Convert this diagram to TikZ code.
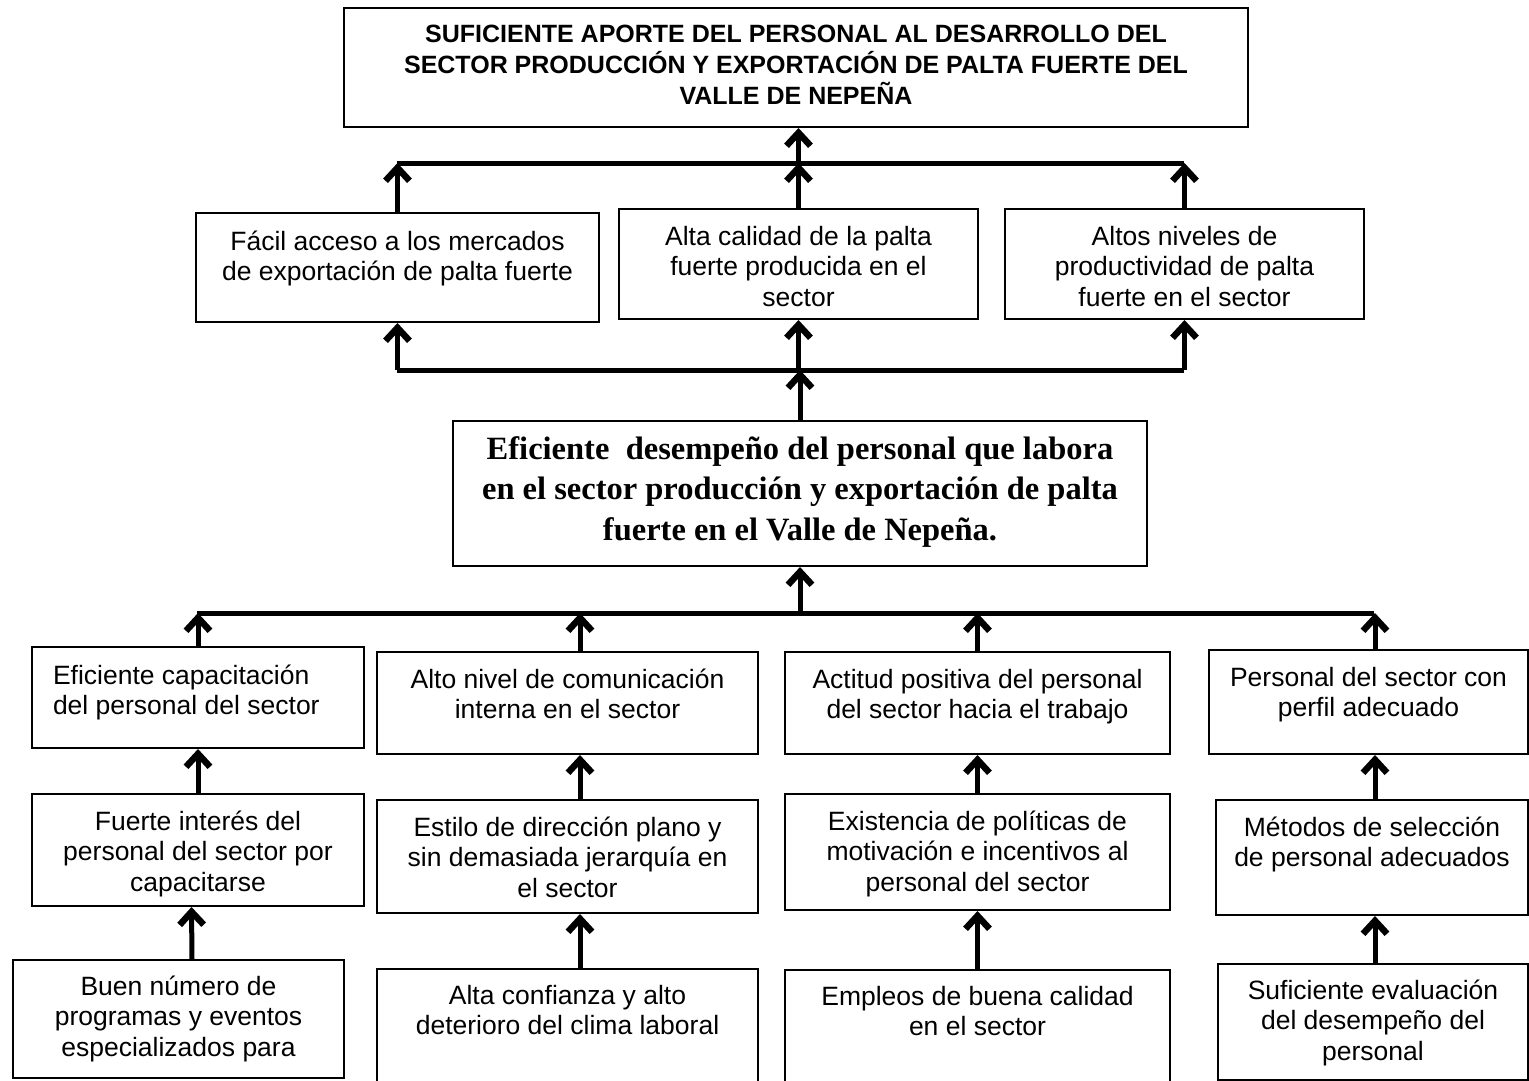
\documentclass[tikz,border=0pt]{standalone}
\usepackage{fontspec}
\setmainfont{Liberation Sans}
\newfontfamily\tnr{Liberation Serif}
\usetikzlibrary{arrows.meta}

% texto alineado arriba dentro de una caja de alto fijo
\newcommand{\contenido}[5][\centering]{\parbox[c][#3][t]{#2}{#1\rule{0pt}{#4}#5}}

\begin{document}
\begin{tikzpicture}[x=1pt, y=-1pt,
  caja/.style={draw, line width=2pt, inner sep=0pt, anchor=north west,
               font=\fontsize{26.5}{30.5}\selectfont},
  titulo/.style={caja, font=\bfseries\fontsize{25}{31}\selectfont},
  central/.style={caja, font=\tnr\bfseries\fontsize{32.5}{40.5}\selectfont},
  flecha/.style={-{Straight Barb[length=13pt, width=24pt, line width=6.5pt]}, line width=5pt},
  barra/.style={line width=5pt}
]
\useasboundingbox (0,0) rectangle (1529,1080);

% fin
\node[titulo] (aporte) at (343,7) {\contenido{904pt}{119pt}{34pt}{SUFICIENTE APORTE DEL PERSONAL AL DESARROLLO DEL\\ SECTOR PRODUCCIÓN Y EXPORTACIÓN DE PALTA FUERTE DEL\\ VALLE DE NEPEÑA}};

% fines directos
\node[caja] (acceso) at (195,212) {\contenido{403pt}{109pt}{37pt}{Fácil acceso a los mercados\\ de exportación de palta fuerte}};
\node[caja] (calidad) at (618,208) {\contenido{359pt}{110pt}{36pt}{Alta calidad de la palta\\ fuerte producida en el\\ sector}};
\node[caja] (productividad) at (1004,208) {\contenido{359pt}{110pt}{36pt}{Altos niveles de\\ productividad de palta\\ fuerte en el sector}};

% objetivo central
\node[central] (desempeno) at (452,420) {\contenido{694pt}{145pt}{38pt}{Eficiente\ \ desempeño del personal que labora\\ en el sector producción y exportación de palta\\ fuerte en el Valle de Nepeña.}};

% medios de primer nivel
\node[caja] (capacitacion) at (31,646) {\contenido[\raggedright\leftskip=21pt\relax]{332pt}{101pt}{37pt}{Eficiente capacitación\\ del personal del sector}};
\node[caja] (comunicacion) at (376,651) {\contenido{381pt}{102pt}{36pt}{Alto nivel de comunicación\\ interna en el sector}};
\node[caja] (actitud) at (784,651) {\contenido{385pt}{102pt}{36pt}{Actitud positiva del personal\\ del sector hacia el trabajo}};
\node[caja] (perfil) at (1208,649) {\contenido{319pt}{104pt}{36pt}{Personal del sector con\\ perfil adecuado}};

% medios de segundo nivel
\node[caja] (interes) at (31,793) {\contenido{332pt}{112pt}{36pt}{Fuerte interés del\\ personal del sector por\\ capacitarse}};
\node[caja] (estilo) at (376,799) {\contenido{381pt}{113pt}{36pt}{Estilo de dirección plano y\\ sin demasiada jerarquía en\\ el sector}};
\node[caja] (politicas) at (784,793) {\contenido{385pt}{116pt}{36pt}{Existencia de políticas de\\ motivación e incentivos al\\ personal del sector}};
\node[caja] (seleccion) at (1215,799) {\contenido{312pt}{115pt}{36pt}{Métodos de selección\\ de personal adecuados}};

% medios fundamentales
\node[caja] (programas) at (12,959) {\contenido{331pt}{118pt}{35pt}{Buen número de\\ programas y eventos\\ especializados para}};
\node[caja] (confianza) at (376,968) {\contenido{381pt}{120pt}{35pt}{Alta confianza y alto\\ deterioro del clima laboral}};
\node[caja] (empleos) at (784,969) {\contenido{385pt}{120pt}{35pt}{Empleos de buena calidad\\ en el sector}};
\node[caja] (evaluacion) at (1217,963) {\contenido{310pt}{116pt}{35pt}{Suficiente evaluación\\ del desempeño del\\ personal}};

% barras
\coordinate (barra1i) at (396.5,163);
\coordinate (barra1d) at (1183.5,163);
\coordinate (barra2i) at (396.5,370);
\coordinate (barra2d) at (1183.5,370);
\coordinate (barra3i) at (197,613);
\coordinate (barra3d) at (1374,613);
\draw[barra] (barra1i) -- (barra1d);
\draw[barra] (barra2i) -- (barra2d);
\draw[barra] (barra3i) -- (barra3d);

% flechas superiores
\draw[flecha] (calidad.north |- barra1i) -- (calidad.north |- aporte.south);
\draw[flecha] (acceso.north) -- (acceso.north |- barra1i);
\draw[flecha] (calidad.north) -- (calidad.north |- barra1i);
\draw[flecha] (productividad.north) -- (productividad.north |- barra1i);
\draw[flecha] (acceso.south |- barra2i) -- (acceso.south);
\draw[flecha] (calidad.south |- barra2i) -- (calidad.south);
\draw[flecha] (productividad.south |- barra2i) -- (productividad.south);
\draw[flecha] (desempeno.north) -- (desempeno.north |- barra2i);

% flechas inferiores
\draw[flecha] (desempeno.south |- barra3i) -- (desempeno.south);
\draw[flecha] (capacitacion.north) -- (capacitacion.north |- barra3i);
\draw[flecha] ([xshift=12.5pt]comunicacion.north) -- ([xshift=12.5pt]comunicacion.north |- barra3i);
\draw[flecha] (actitud.north) -- (actitud.north |- barra3i);
\draw[flecha] ([xshift=6.5pt]perfil.north) -- ([xshift=6.5pt]perfil.north |- barra3i);

\draw[flecha] (interes.north) -- (capacitacion.south);
\draw[flecha] ([xshift=12.5pt]estilo.north) -- ([xshift=12.5pt]comunicacion.south);
\draw[flecha] (politicas.north) -- (actitud.south);
\draw[flecha] ([xshift=3pt]seleccion.north) -- ([xshift=6.5pt]perfil.south);

\draw[flecha] ([xshift=13.5pt]programas.north) -- ([xshift=-6.5pt]interes.south);
\draw[flecha] ([xshift=12.5pt]confianza.north) -- ([xshift=12.5pt]estilo.south);
\draw[flecha] (empleos.north) -- (politicas.south);
\draw[flecha] ([xshift=2pt]evaluacion.north) -- ([xshift=3pt]seleccion.south);
\end{tikzpicture}
\end{document}
